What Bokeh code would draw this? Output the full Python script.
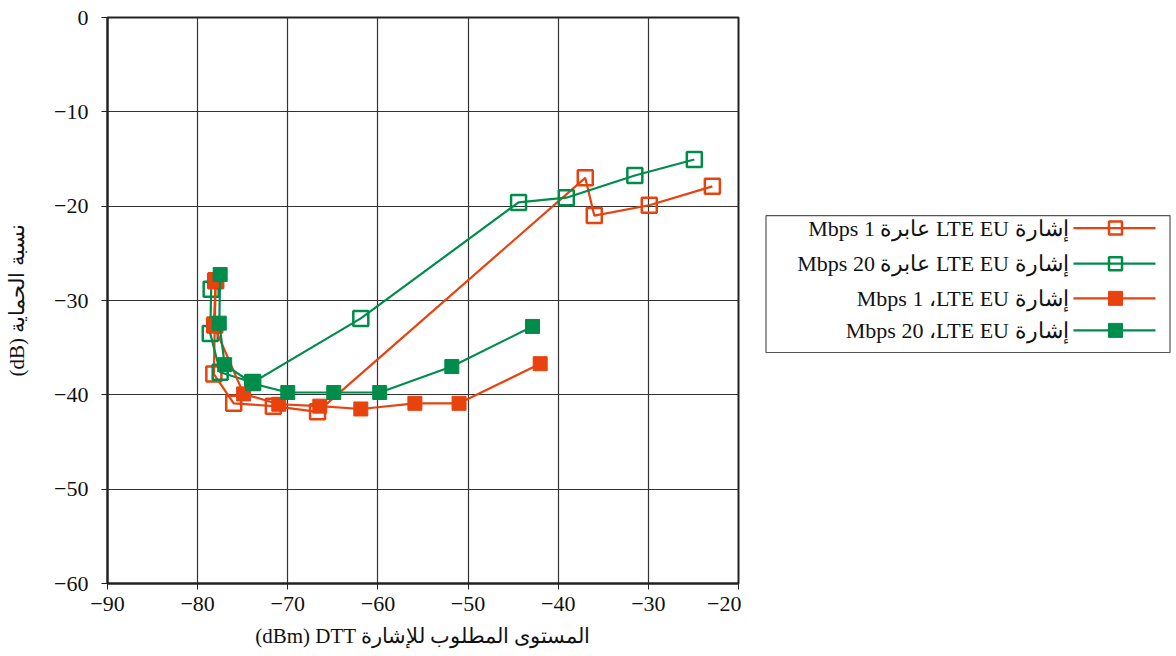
from bokeh.plotting import figure
from bokeh.layouts import row
from bokeh.models import Range1d, FixedTicker
from bokeh.core.properties import value
from bokeh.embed import file_html
from bokeh.resources import INLINE

# ---- data ----
x_ticks = [-90, -80, -70, -60, -50, -40, -30, -20]
y_ticks = [0, -10, -20, -30, -40, -50, -60]

s1_name = "Mbps 1 عابرة LTE EU إشارة"
s1_x = [-78.0, -78.1, -78.2, -76.0, -71.6, -66.7, -37.0, -36.0, -29.9, -22.9]
s1_y = [-27.9, -32.6, -37.8, -40.9, -41.2, -41.8, -17.0, -21.0, -19.9, -17.9]

s2_name = "Mbps 20 عابرة LTE EU إشارة"
s2_x = [-78.5, -78.6, -77.5, -73.9, -61.9, -44.4, -39.1, -31.5, -24.9]
s2_y = [-28.8, -33.5, -37.6, -38.7, -31.9, -19.6, -19.1, -16.75, -15.05]

s3_name = "Mbps 1 ،LTE EU إشارة"
s3_x = [-78.0, -78.2, -74.9, -71.0, -66.45, -61.9, -55.9, -51.0, -42.0]
s3_y = [-27.9, -32.65, -39.9, -41.0, -41.2, -41.5, -40.9, -40.9, -36.7]

s4_name = "Mbps 20 ،LTE EU إشارة"
s4_x = [-77.5, -77.6, -77.0, -73.9, -70.0, -64.9, -59.8, -51.8, -42.85]
s4_y = [-27.25, -32.4, -36.8, -38.8, -39.75, -39.75, -39.75, -37.0, -32.75]

x_label = "(dBm) DTT المستوى المطلوب للإشارة"
y_label = "(dB) نسبة الحماية"

ORANGE = "#E8420E"
GREEN = "#008C4B"
FONT = "'Liberation Serif', 'DejaVu Serif', serif"

# ---- main plot ----
p = figure(width=741, height=653, output_backend="svg", toolbar_location=None,
           x_range=Range1d(-90, -20), y_range=Range1d(-60, 0),
           min_border_left=107, min_border_right=3, min_border_top=17, min_border_bottom=70)
p.background_fill_color = "white"
p.border_fill_color = "white"
p.outline_line_color = "#222222"
p.outline_line_width = 2

for ax, ticks in ((p.xaxis[0], x_ticks), (p.yaxis[0], y_ticks)):
    ax.ticker = FixedTicker(ticks=ticks)
    ax.major_label_overrides = {t: ("\u2212" + str(abs(t)) if t < 0 else str(t)) for t in ticks}
    ax.major_label_text_font = FONT
    ax.major_label_text_font_size = "22px"
    ax.major_label_text_color = "#111111"
    ax.axis_label_text_font = FONT
    ax.axis_label_text_font_size = "21px"
    ax.axis_label_text_font_style = "normal"
    ax.axis_label_text_color = "#111111"
    ax.axis_line_color = "#222222"
    ax.axis_line_width = 2
    ax.major_tick_line_color = "#222222"
    ax.major_tick_out = 6
    ax.major_tick_in = 0
    ax.minor_tick_line_color = None

p.xaxis.axis_label = x_label
p.yaxis.axis_label = y_label
p.xaxis.major_label_standoff = 7
p.xaxis.axis_label_standoff = 10
p.yaxis.major_label_standoff = 13
p.yaxis.axis_label_standoff = 22

p.xgrid.ticker = FixedTicker(ticks=x_ticks)
p.ygrid.ticker = FixedTicker(ticks=y_ticks)
p.grid.grid_line_color = "#333333"
p.grid.grid_line_width = 1.2

# open orange
p.line(s1_x, s1_y, line_color=ORANGE, line_width=2.2)
p.scatter(s1_x, s1_y, marker="square", size=15, fill_color=None, line_color=ORANGE, line_width=2.5)
# open green
p.line(s2_x, s2_y, line_color=GREEN, line_width=2.2)
p.scatter(s2_x, s2_y, marker="square", size=15, fill_color=None, line_color=GREEN, line_width=2.5)
# filled orange
p.line(s3_x, s3_y, line_color=ORANGE, line_width=2.2)
p.scatter(s3_x, s3_y, marker="square", size=14, fill_color=ORANGE, line_color=ORANGE, line_width=1)
# filled green
p.line(s4_x, s4_y, line_color=GREEN, line_width=2.2)
p.scatter(s4_x, s4_y, marker="square", size=14, fill_color=GREEN, line_color=GREEN, line_width=1)

# ---- legend panel ----
W2, H2 = 432, 653
lg = figure(width=W2, height=H2, output_backend="svg", toolbar_location=None,
            x_range=Range1d(0, W2), y_range=Range1d(H2, 0),
            min_border=0, min_border_left=0, min_border_right=0,
            min_border_top=0, min_border_bottom=0)
lg.axis.visible = False
lg.grid.visible = False
lg.outline_line_color = None
lg.background_fill_color = "white"
lg.border_fill_color = "white"

box_l, box_r, box_t, box_b = 24.5, 428.5, 228.5, 386.5
lg.line([box_l, box_r, box_r, box_l, box_l], [box_t, box_t, box_b, box_b, box_t],
        line_color="#555555", line_width=1.2)

rows = [(s1_name, ORANGE, False), (s2_name, GREEN, False), (s3_name, ORANGE, True), (s4_name, GREEN, True)]
row_y = [243, 284, 324, 361]
for (name, col, filled), yy in zip(rows, row_y):
    lg.line([332, 414], [yy, yy], line_color=col, line_width=2.2)
    if filled:
        lg.scatter([374], [yy], marker="square", size=14, fill_color=col, line_color=col)
    else:
        lg.scatter([374], [yy], marker="square", size=13, fill_color=None, line_color=col, line_width=2.5)
    lg.text([327], [yy], text=[name], text_align="right", text_baseline="middle",
            text_font=value(FONT), text_font_size="22px", text_color="#111111")

layout = row(p, lg)
open("out.html", "w").write(file_html(layout, INLINE))
